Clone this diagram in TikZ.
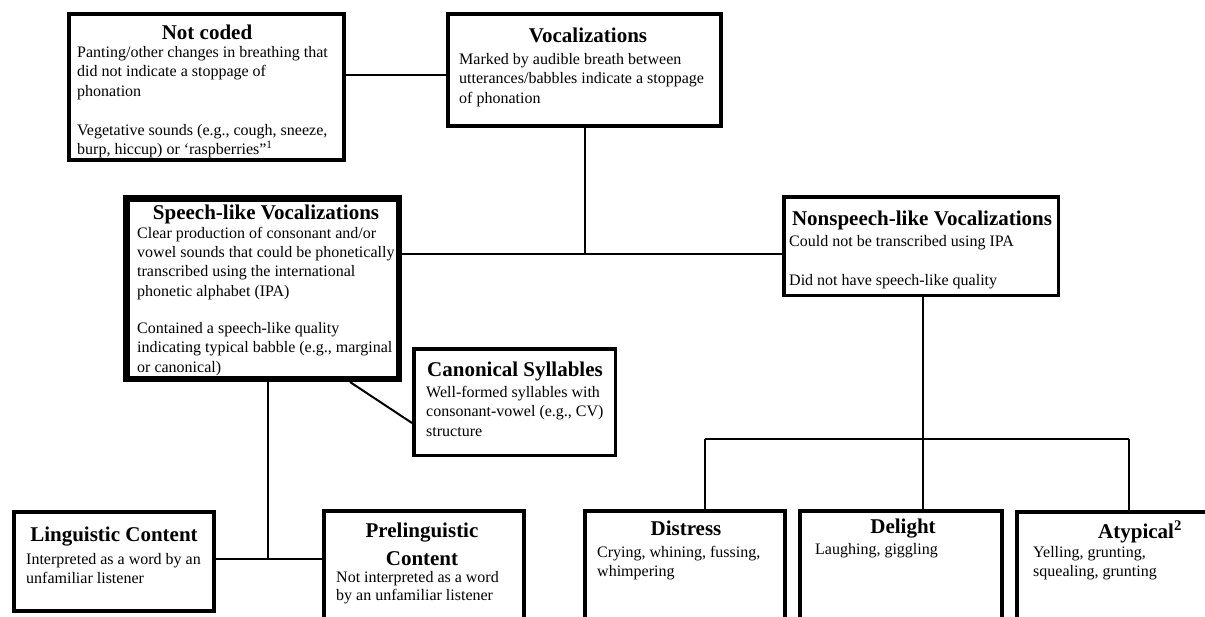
\documentclass[tikz,border=0pt]{standalone}
\usepackage{fontspec}
\setmainfont{Liberation Serif}
\begin{document}
\begin{tikzpicture}[x=1pt, y=-1pt,
  catbox/.style={draw, line width=#1, inner sep=0pt},
  ttl/.style={font=\fontsize{21}{26}\selectfont\bfseries, inner sep=0pt, anchor=base},
  body/.style={font=\fontsize{16}{19.5}\selectfont, align=left, inner sep=0pt, anchor=north west},
  link/.style={line width=2pt}]
\path[use as bounding box, fill=white] (0,0) rectangle (1205,616);

% top row
\node[catbox=4pt, minimum width=275pt, minimum height=146pt] (ncod) at (206.5,87) {};
\node[ttl] (ncod-ttl) at (207,39) {Not coded};
\node[body] (ncod-txt) at (77,46) {Panting/other changes in breathing that\\did not indicate a stoppage of\\phonation\\[19.5pt]Vegetative sounds (e.g., cough, sneeze,\\burp, hiccup) or ‘raspberries”\textsuperscript{1}};
\node[catbox=4pt, minimum width=273pt, minimum height=112pt] (voc) at (584.5,70) {};
\node[ttl] (voc-ttl) at (588,42) {Vocalizations};
\node[body] (voc-txt) at (459,53) {Marked by audible breath between\\utterances/babbles indicate a stoppage\\of phonation};

% second row
\node[catbox=6.5pt, minimum width=272.5pt, minimum height=180.5pt] (spl) at (262.5,288.5) {};
\node[ttl] (spl-ttl) at (266,219) {Speech-like Vocalizations};
\node[body, font=\fontsize{16}{19.2}\selectfont] (spl-txt) at (137,227) {Clear production of consonant and/or\\vowel sounds that could be phonetically\\transcribed using the international\\phonetic alphabet (IPA)\\[18.5pt]Contained a speech-like quality\\indicating typical babble (e.g., marginal\\or canonical)};
\node[catbox=3.5pt, minimum width=274.5pt, minimum height=98.5pt] (nsp) at (921,246) {};
\node[ttl] (nsp-ttl) at (922,225) {Nonspeech-like Vocalizations};
\node[body] (nsp-txt) at (789,235) {Could not be transcribed using IPA\\[19.5pt]Did not have speech-like quality};
\node[catbox=3.5pt, minimum width=201.5pt, minimum height=106.5pt] (can) at (514.5,402) {};
\node[ttl] (can-ttl) at (515,376) {Canonical Syllables};
\node[body] (can-txt) at (426,386) {Well-formed syllables with\\consonant-vowel (e.g., CV)\\structure};

% bottom row
\node[catbox=4pt, minimum width=200pt, minimum height=99pt] (lin) at (114,561.5) {};
\node[ttl] (lin-ttl) at (114,541) {Linguistic Content};
\node[body] (lin-txt) at (26,553) {Interpreted as a word by an\\unfamiliar listener};
\node[catbox=4pt, minimum width=200pt, minimum height=117pt] (pre) at (424,569.5) {};
\node[ttl, anchor=north, align=center, font=\fontsize{21}{27.5}\selectfont\bfseries] (pre-ttl) at (422,523) {Prelinguistic\\Content};
\node[body, font=\fontsize{16}{18.5}\selectfont] (pre-txt) at (336,571) {Not interpreted as a word\\by an unfamiliar listener};
\node[catbox=4pt, minimum width=200pt, minimum height=117pt] (dis) at (685,569.5) {};
\node[ttl] (dis-ttl) at (686,535) {Distress};
\node[body] (dis-txt) at (597,546) {Crying, whining, fussing,\\whimpering};
\node[catbox=4pt, minimum width=202pt, minimum height=117pt] (del) at (901,569.5) {};
\node[ttl] (del-ttl) at (903,533) {Delight};
\node[body] (del-txt) at (815,543) {Laughing, giggling};
\node[catbox=4pt, minimum width=246pt, minimum height=116pt] (aty) at (1140,570) {};
\node[ttl] (aty-ttl) at (1140,538) {Atypical\textsuperscript{2}};
\node[body] (aty-txt) at (1033,546) {Yelling, grunting,\\squealing, grunting};

% junctions
\coordinate (j1) at (585,254);
\coordinate (j2) at (923,439);
\coordinate (j2l) at (705,439);
\coordinate (j2r) at (1129,439);
\coordinate (j3) at (268,559);

% connectors
\draw[link] ([yshift=12pt]ncod.east) -- ([yshift=-5pt]voc.west);
\draw[link] (voc.south -| j1) -- (j1);
\draw[link] (j1 -| spl.east) -- (j1 -| nsp.west);
\draw[link] (nsp.south -| j2) -- (j2);
\draw[link] (j2l) -- (j2r);
\draw[link] (j2l) -- (j2l |- dis.north);
\draw[link] (j2) -- (j2 |- del.north);
\draw[link] (j2r) -- (j2r |- aty.north);
\draw[link] (spl.south -| j3) -- (j3);
\draw[link] (j3 -| lin.east) -- (j3 -| pre.west);
\draw[link] ([xshift=87.5pt]spl.south) -- ([yshift=-21pt]can.west);

\end{tikzpicture}
\end{document}
